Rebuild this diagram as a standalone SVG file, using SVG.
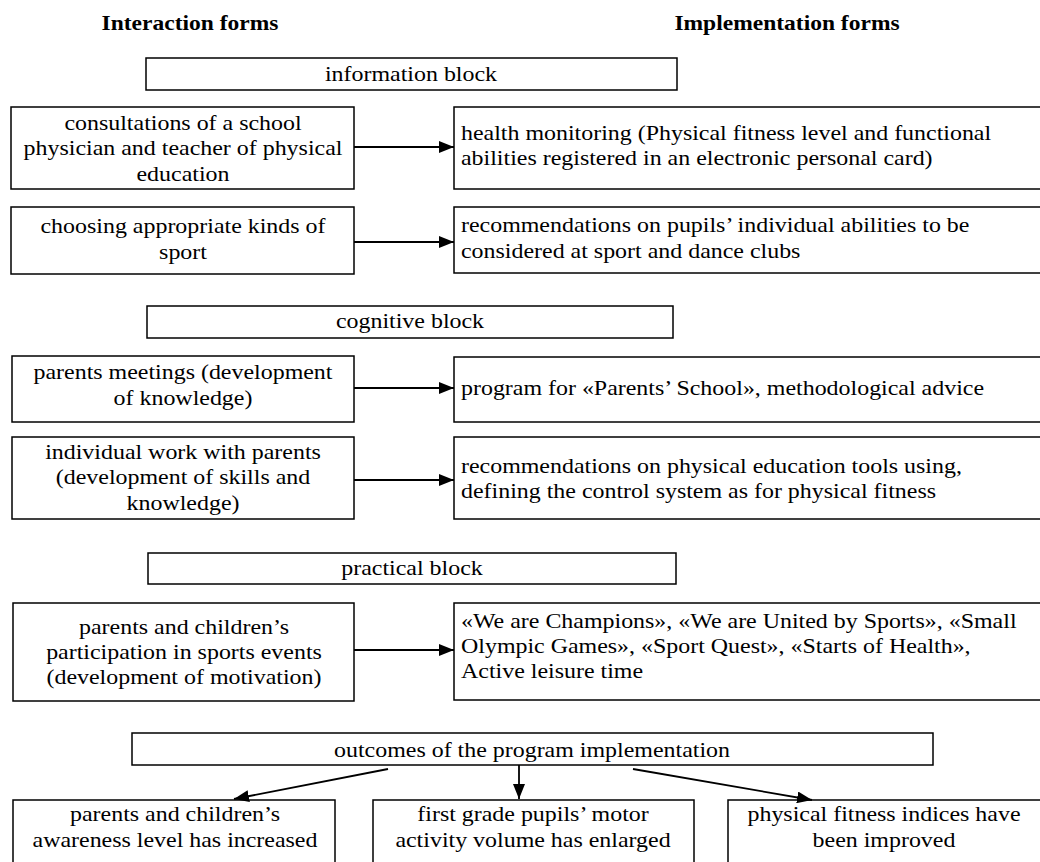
<svg xmlns="http://www.w3.org/2000/svg" width="1040" height="862" viewBox="0 0 1040 862">
<style>
.bx{fill:#fff;stroke:#000;stroke-width:1.5}
.t{font-family:"Liberation Serif","Times New Roman",serif;font-size:21px;fill:#000}
.c{text-anchor:middle}
.h{font-family:"Liberation Serif","Times New Roman",serif;font-size:21px;font-weight:bold;fill:#000;text-anchor:middle}
.ln{stroke:#000;stroke-width:1.8;fill:none}
</style>
<defs>
<marker id="ah" markerUnits="userSpaceOnUse" markerWidth="16" markerHeight="12" refX="15" refY="6" orient="auto">
<path d="M0,0 L15,6 L0,12 Z" fill="#000"/>
</marker>
</defs>
<rect width="1040" height="862" fill="#fff"/>
<g id="headers">
<text class="h" transform="matrix(1.12 0 0 1 190 30)">Interaction forms</text>
<text class="h" transform="matrix(1.12 0 0 1 787 30)">Implementation forms</text>
</g>
<g id="info-block"><rect class="bx" x="146" y="58" width="531" height="32"/>
<text class="t c" transform="matrix(1.14 0 0 1 411 81)">information block</text></g>
<g id="l1"><rect class="bx" x="11" y="107" width="343" height="82"/>
<text class="t c" transform="matrix(1.14 0 0 1 183 130)"><tspan x="0" y="0">consultations of a school</tspan><tspan x="0" y="25.5">physician and teacher of physical</tspan><tspan x="0" y="51">education</tspan></text></g>
<g id="r1"><rect class="bx" x="454" y="107" width="600" height="82"/>
<text class="t" transform="matrix(1.14 0 0 1 461 140)"><tspan x="0" y="0">health monitoring (Physical fitness level and functional</tspan><tspan x="0" y="25.5">abilities registered in an electronic personal card)</tspan></text></g>
<g id="l2"><rect class="bx" x="11" y="207" width="343" height="67"/>
<text class="t c" transform="matrix(1.14 0 0 1 183 233)"><tspan x="0" y="0">choosing appropriate kinds of</tspan><tspan x="0" y="26">sport</tspan></text></g>
<g id="r2"><rect class="bx" x="454" y="207" width="600" height="66"/>
<text class="t" transform="matrix(1.14 0 0 1 461 232)"><tspan x="0" y="0">recommendations on pupils’ individual abilities to be</tspan><tspan x="0" y="26">considered at sport and dance clubs</tspan></text></g>
<g id="cog-block"><rect class="bx" x="147" y="306" width="526" height="32"/>
<text class="t c" transform="matrix(1.14 0 0 1 410 328)">cognitive block</text></g>
<g id="l3"><rect class="bx" x="12" y="356" width="342" height="66"/>
<text class="t c" transform="matrix(1.14 0 0 1 183 379)"><tspan x="0" y="0">parents meetings (development</tspan><tspan x="0" y="26">of knowledge)</tspan></text></g>
<g id="r3"><rect class="bx" x="454" y="357" width="600" height="65"/>
<text class="t" transform="matrix(1.14 0 0 1 461 395)">program for «Parents’ School», methodological advice</text></g>
<g id="l4"><rect class="bx" x="12" y="437" width="342" height="82"/>
<text class="t c" transform="matrix(1.14 0 0 1 183 459)"><tspan x="0" y="0">individual work with parents</tspan><tspan x="0" y="25.5">(development of skills and</tspan><tspan x="0" y="51">knowledge)</tspan></text></g>
<g id="r4"><rect class="bx" x="454" y="437" width="600" height="82"/>
<text class="t" transform="matrix(1.14 0 0 1 461 473)"><tspan x="0" y="0">recommendations on physical education tools using,</tspan><tspan x="0" y="25.5">defining the control system as for physical fitness</tspan></text></g>
<g id="prac-block"><rect class="bx" x="148" y="553" width="528" height="31"/>
<text class="t c" transform="matrix(1.14 0 0 1 412 575)">practical block</text></g>
<g id="l5"><rect class="bx" x="13" y="603" width="341" height="98"/>
<text class="t c" transform="matrix(1.14 0 0 1 184 634)"><tspan x="0" y="0">parents and children’s</tspan><tspan x="0" y="25">participation in sports events</tspan><tspan x="0" y="50">(development of motivation)</tspan></text></g>
<g id="r5"><rect class="bx" x="454" y="603" width="600" height="97"/>
<text class="t" transform="matrix(1.14 0 0 1 461 628)"><tspan x="0" y="0">«We are Champions», «We are United by Sports», «Small</tspan><tspan x="0" y="25">Olympic Games», «Sport Quest», «Starts of Health»,</tspan><tspan x="0" y="50">Active leisure time</tspan></text></g>
<g id="outcomes"><rect class="bx" x="132" y="733" width="801" height="32"/>
<text class="t c" transform="matrix(1.14 0 0 1 532 757)">outcomes of the program implementation</text></g>
<g id="o1"><rect class="bx" x="13" y="800" width="322" height="80"/>
<text class="t c" transform="matrix(1.14 0 0 1 175 821)"><tspan x="0" y="0">parents and children’s</tspan><tspan x="0" y="26">awareness level has increased</tspan></text></g>
<g id="o2"><rect class="bx" x="373" y="800" width="321" height="80"/>
<text class="t c" transform="matrix(1.14 0 0 1 533 821)"><tspan x="0" y="0">first grade pupils’ motor</tspan><tspan x="0" y="26">activity volume has enlarged</tspan></text></g>
<g id="o3"><rect class="bx" x="728" y="800" width="330" height="80"/>
<text class="t c" transform="matrix(1.14 0 0 1 884 821)"><tspan x="0" y="0">physical fitness indices have</tspan><tspan x="0" y="26">been improved</tspan></text></g>
<g id="connectors">
<line class="ln" x1="354" y1="147" x2="454" y2="147" marker-end="url(#ah)"/>
<line class="ln" x1="354" y1="242" x2="454" y2="242" marker-end="url(#ah)"/>
<line class="ln" x1="354" y1="388" x2="454" y2="388" marker-end="url(#ah)"/>
<line class="ln" x1="354" y1="480" x2="454" y2="480" marker-end="url(#ah)"/>
<line class="ln" x1="354" y1="650" x2="454" y2="650" marker-end="url(#ah)"/>
<line class="ln" x1="388" y1="769" x2="234" y2="799" marker-end="url(#ah)"/>
<line class="ln" x1="519" y1="765" x2="519" y2="799" marker-end="url(#ah)"/>
<line class="ln" x1="633" y1="769" x2="812" y2="800" marker-end="url(#ah)"/>
</g>
</svg>
